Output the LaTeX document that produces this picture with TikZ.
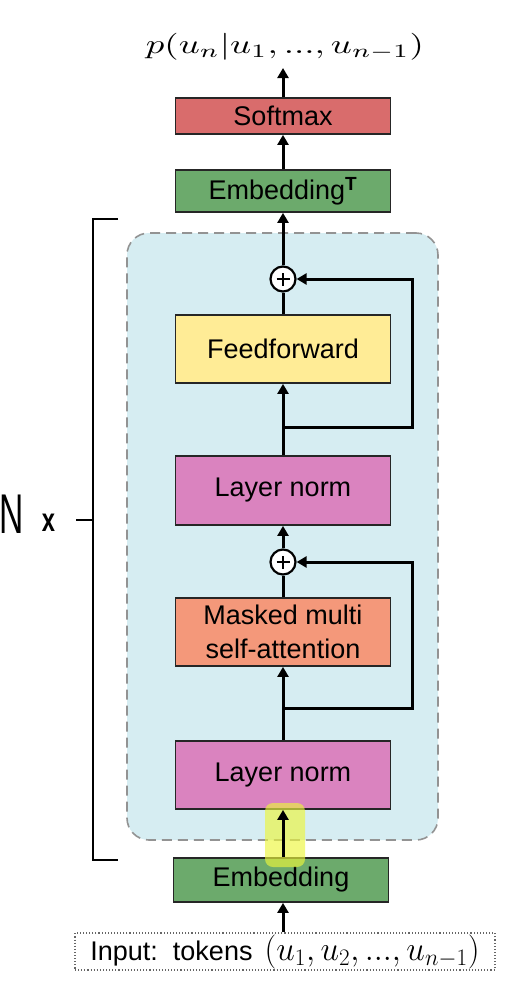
\documentclass[tikz,border=0pt]{standalone}
\usepackage{fontspec}
\setsansfont{Liberation Sans}
\usetikzlibrary{arrows.meta}
\definecolor{smred}{RGB}{217,108,108}
\definecolor{embgreen}{RGB}{108,170,108}
\definecolor{ffyellow}{RGB}{255,236,150}
\definecolor{lnpink}{RGB}{218,131,191}
\definecolor{masalmon}{RGB}{244,152,122}
\definecolor{contblue}{RGB}{214,237,242}
\definecolor{hlyellow}{RGB}{236,246,60}
\begin{document}
\begin{tikzpicture}[x=1pt,y=-1pt,
  blk/.style={draw=black!85, line width=1.8pt, minimum width=215, inner sep=0pt,
    font=\sffamily\fontsize{27}{34}\selectfont, align=center},
  arr/.style={line width=3pt, -{Triangle[length=10pt,width=11pt]}},
  ln/.style={line width=3pt},
  addc/.style={circle, draw=black, line width=2.2pt, fill=white, minimum size=25, inner sep=0pt}]
\useasboundingbox (0,0) rectangle (526,988);
% container
\node[draw=gray!85, dash pattern=on 10pt off 6pt, line width=1.6pt, fill=contblue,
  rounded corners=22pt, minimum width=311, minimum height=607, inner sep=0pt] (cont) at (282.5,536.5) {};
% bracket
\coordinate (bt) at (118,219);
\coordinate (bb) at (118,860);
\coordinate (bm) at (76,520);
\draw[line width=2.4pt] (bt) -- (93,219) -- (93,860) -- (bb);
\draw[line width=2.4pt] (bm) -- (93,520);
\node[font=\sffamily\fontsize{56}{56}\selectfont, xscale=0.6, inner sep=0pt, anchor=base] (nn) at (11.5,533) {N};
\node[font=\sffamily\bfseries\fontsize{33}{33}\selectfont, xscale=0.72, inner sep=0pt, anchor=base] (xx) at (48.5,531) {x};
% boxes
\node[anchor=south, inner sep=0pt] (title) at (285,60) {\resizebox*{278pt}{27pt}{$p(u_n|u_1,...,u_{n-1})$}};
\node[blk, fill=smred, minimum height=36] (sm) at (283,116) {Softmax};
\coordinate (tb) at ([yshift=-8pt]sm.north |- title.south);
\node[blk, fill=embgreen, minimum height=42] (embt) at (283,191) {Embedding\textsuperscript{\fontsize{19}{19}\selectfont\bfseries T}};
\node[addc] (c1) at (283,279) {};
\node[blk, fill=ffyellow, minimum height=68] (ff) at (283,349) {Feedforward};
\coordinate (br1) at (283,427);
\coordinate (r1) at (412,427);
\node[blk, fill=lnpink, minimum height=69] (ln1) at (283,490.5) {Layer norm};
\node[addc] (c2) at (283,562) {};
\node[blk, fill=masalmon, minimum height=68] (mas) at (283,632) {Masked multi\\self-attention};
\coordinate (br2) at (283,708);
\coordinate (r2) at (412,708);
\node[blk, fill=lnpink, minimum height=68] (ln2) at (283,775) {Layer norm};
\node[blk, fill=embgreen, minimum height=44] (emb) at (281,880) {Embedding};
\node[draw=black!60, dotted, line width=1.1pt, minimum width=420, minimum height=37, inner sep=0pt,
  font=\sffamily\fontsize{27}{30}\selectfont] (inp) at (285,951.5) {Input:\ \ tokens\hspace{12pt}\resizebox*{215pt}{34pt}{$(u_1,u_2,...,u_{n-1})$}};
% plus signs
\foreach \c in {c1,c2}{
  \draw[line width=1.6pt] ([xshift=-6.5pt]\c.center) -- ([xshift=6.5pt]\c.center);
  \draw[line width=1.6pt] ([yshift=-6.5pt]\c.center) -- ([yshift=6.5pt]\c.center);
}
% connectors
\draw[arr] (sm.north) -- (tb);
\draw[arr] (embt.north) -- (sm.south);
\draw[arr] (c1.north) -- (embt.south);
\draw[ln] (ff.north) -- (c1.south);
\draw[arr] (ln1.north) -- (ff.south);
\draw[arr] (br1) -- (r1) |- (c1.east);
\draw[arr] (c2.north) -- (ln1.south);
\draw[ln] (mas.north) -- (c2.south);
\draw[arr] (ln2.north) -- (mas.south);
\draw[arr] (br2) -- (r2) |- (c2.east);
% highlight
\fill[hlyellow, opacity=0.65, rounded corners=8pt] (265,803) rectangle (305,867);
\draw[arr] (emb.north -| ln2.south) -- (ln2.south);
\draw[arr] (inp.north -| ln2.south) -- (emb.south -| ln2.south);
\end{tikzpicture}
\end{document}
